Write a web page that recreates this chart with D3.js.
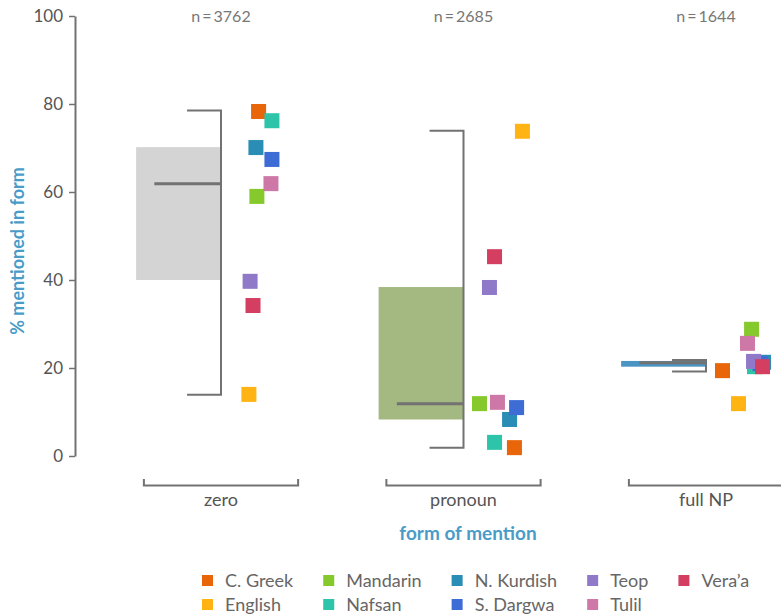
<!DOCTYPE html>
<html>
<head>
<meta charset="utf-8">
<script src="https://cdn.jsdelivr.net/npm/d3@7"></script>
<style>
  body { margin: 0; background: #fff; }
  text { font-family: Lato, "Noto Sans", sans-serif; }
</style>
</head>
<body>
<div id="chart-container"></div>
<script>
// box + jitter chart of how often referents are mentioned in each form
const svgWidth = 781;
const svgHeight = 614;

// data
const forms = ["zero", "pronoun", "full NP"];
const counts = [3762, 2685, 1644];
const languages = ["C. Greek", "English", "Mandarin", "Nafsan", "N. Kurdish", "S. Dargwa", "Teop", "Tulil", "Vera\u2019a"];
const langColors = ["#e8650a", "#ffb414", "#86c92c", "#2ec4aa", "#2a8db5", "#3d6cd4", "#9179c9", "#cd78a6", "#d33e61"];

// % mentioned in each form, per language (same order as languages)
const zeroVals = [78.3, 14.0, 59.0, 76.2, 70.1, 67.4, 39.7, 61.9, 34.2];
const pronounVals = [1.9, 73.8, 11.9, 3.1, 8.3, 11.0, 38.3, 12.2, 45.3];
const fullNPVals = [19.4, 11.9, 28.8, 20.3, 21.3, 21.0, 21.5, 25.6, 20.3];

// horizontal jitter of each point, in % of the category step
const zeroJitter = [15.5, 11.5, 14.8, 21, 14.4, 21, 12, 20.6, 13.2];
const pronounJitter = [21, 24.3, 6.6, 12.8, 19, 21.9, 10.7, 14, 12.8];
const fullNPJitter = [6.8, 13.4, 18.8, 20, 23.7, 22.3, 19.6, 17.1, 23.3];

// box summaries: lower whisker, q1, median, q3, upper whisker
const boxLow = [13.9, 1.9, 19.2];
const boxQ1 = [40.0, 8.3, 20.3];
const boxMedian = [61.9, 11.9, 21.2];
const boxQ3 = [70.2, 38.4, 21.6];
const boxHigh = [78.5, 73.9, 21.8];
const boxColors = ["#d4d4d4", "#a4b982", "#4a95c4"];

const yTicks = [0, 20, 40, 60, 80, 100];

const svg = d3.select("#chart-container")
    .append("svg")
    .attr("width", svgWidth)
    .attr("height", svgHeight);

const x = d3.scalePoint()
    .domain(forms)
    .range([221, 706]);
const step = x.step();

const y = d3.scaleLinear()
    .domain([0, 100])
    .range([456, 16]);

const jitter = d3.scaleLinear()
    .domain([0, 100])
    .range([0, step]);

const color = d3.scaleOrdinal()
    .domain(languages)
    .range(langColors);

const gray = "#727272";

// y axis
const yAxis = svg.append("g")
    .attr("transform", "translate(75,0)")
    .call(d3.axisLeft(y).tickValues(yTicks).tickSize(6).tickSizeOuter(0).tickPadding(6));
yAxis.select(".domain").attr("stroke", gray).attr("stroke-width", 2);
yAxis.selectAll(".tick line").attr("stroke", gray).attr("stroke-width", 1.5);
yAxis.selectAll(".tick text")
    .attr("fill", "#555")
    .style("font-size", "17px");

svg.append("text")
    .text("% mentioned in form")
    .attr("transform", `translate(24, ${y(50) + 15}) rotate(-90)`)
    .attr("text-anchor", "middle")
    .attr("fill", "#4a9cc8")
    .style("font-size", "18px")
    .style("font-weight", "bold");

// category brackets along the bottom
const cats = svg.selectAll(".cat")
    .data(forms)
    .enter()
    .append("g");

cats.append("path")
    .attr("d", d => {
        const c = x(d), h = step * 0.318;
        return `M${c - h},479V485.5H${c + h}V479`;
    })
    .attr("fill", "none")
    .attr("stroke", gray)
    .attr("stroke-width", 2);

cats.append("text")
    .text(d => d)
    .attr("x", d => x(d))
    .attr("y", 506)
    .attr("text-anchor", "middle")
    .attr("fill", "#555")
    .style("font-size", "18px");

cats.append("text")
    .text((d, i) => `n\u2009=\u2009${counts[i]}`)
    .attr("x", d => x(d))
    .attr("y", 22)
    .attr("text-anchor", "middle")
    .attr("fill", "#777")
    .style("font-size", "16px");

svg.append("text")
    .text("form of mention")
    .attr("x", 468)
    .attr("y", 540)
    .attr("text-anchor", "middle")
    .attr("fill", "#4a9cc8")
    .style("font-size", "19px")
    .style("font-weight", "bold");

// boxes
const boxes = svg.selectAll(".box")
    .data(forms)
    .enter()
    .append("g");

boxes.append("rect")
    .attr("x", d => x(d) - step * 0.35)
    .attr("width", step * 0.35)
    .attr("y", (d, i) => y(boxQ3[i]))
    .attr("height", (d, i) => y(boxQ1[i]) - y(boxQ3[i]))
    .attr("fill", (d, i) => boxColors[i]);

boxes.append("line")
    .attr("x1", d => x(d) - step * 0.275)
    .attr("x2", d => x(d))
    .attr("y1", (d, i) => y(boxMedian[i]))
    .attr("y2", (d, i) => y(boxMedian[i]))
    .attr("stroke", gray)
    .attr("stroke-width", 3);

boxes.append("path")
    .attr("d", (d, i) => {
        const c = x(d), w = step * 0.14;
        return `M${c - w},${y(boxHigh[i])}H${c}V${y(boxLow[i])}H${c - w}`;
    })
    .attr("fill", "none")
    .attr("stroke", gray)
    .attr("stroke-width", 2);

// language points
const vals = [zeroVals, pronounVals, fullNPVals];
const jit = [zeroJitter, pronounJitter, fullNPJitter];
const points = d3.cross(d3.range(forms.length), d3.range(languages.length));
const sq = 15;

svg.selectAll(".pt")
    .data(points)
    .enter()
    .append("rect")
    .attr("class", "pt")
    .attr("x", d => x(forms[d[0]]) + jitter(jit[d[0]][d[1]]) - sq / 2)
    .attr("y", d => y(vals[d[0]][d[1]]) - sq / 2)
    .attr("width", sq)
    .attr("height", sq)
    .attr("fill", d => color(languages[d[1]]));

// legend, two rows filled column by column
const legend = svg.append("g");
let lx = 202;
for (let c = 0; c < Math.ceil(languages.length / 2); c++) {
    let maxW = 0;
    for (let r = 0; r < 2; r++) {
        const k = c * 2 + r;
        if (k >= languages.length) break;
        const ly = 580.5 + r * 24;
        legend.append("rect")
            .attr("x", lx)
            .attr("y", ly - 5.5)
            .attr("width", 11)
            .attr("height", 11)
            .attr("fill", color(languages[k]));
        const t = legend.append("text")
            .text(languages[k])
            .attr("x", lx + 23)
            .attr("y", ly)
            .attr("dy", "0.36em")
            .attr("fill", "#666")
            .style("font-size", "18px");
        maxW = Math.max(maxW, t.node().getComputedTextLength());
    }
    lx += 23 + maxW + 30;
}
</script>
</body>
</html>
